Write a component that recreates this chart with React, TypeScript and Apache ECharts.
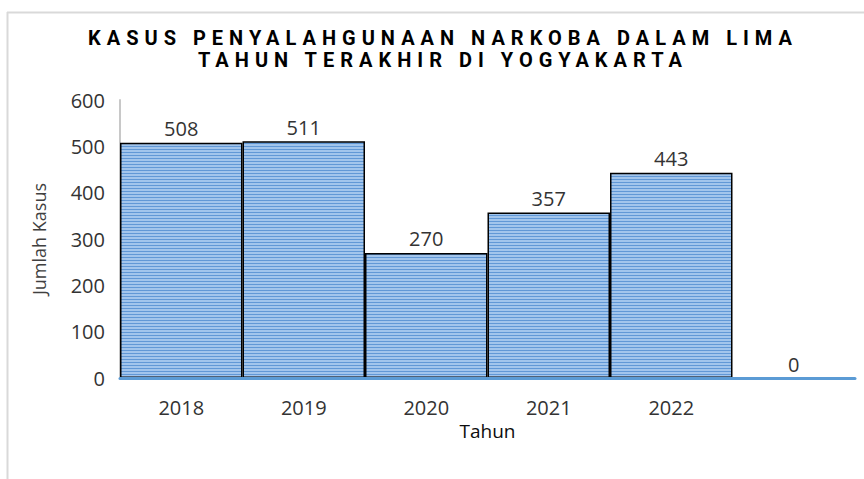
import React, { useEffect, useRef } from "react";
import * as echarts from "echarts";

const categories = ["2018", "2019", "2020", "2021", "2022", ""];
const values = [508, 511, 270, 357, 443, 0];
const yTicks = { min: 0, max: 600, interval: 100 };
const titleLines = [
  "KASUS PENYALAHGUNAAN NARKOBA DALAM LIMA",
  "TAHUN TERAKHIR DI YOGYAKARTA",
];
const yName = "Jumlah Kasus";
const xName = "Tahun";

function makeStripe(): string {
  const c = document.createElement("canvas");
  c.width = 4;
  c.height = 3;
  const ctx = c.getContext("2d");
  if (ctx) {
    ctx.fillStyle = "#a2c5ec";
    ctx.fillRect(0, 0, 4, 2);
    ctx.fillStyle = "#6198d6";
    ctx.fillRect(0, 2, 4, 1);
  }
  return c.toDataURL();
}

export default function App() {
  const ref = useRef<HTMLDivElement>(null);
  useEffect(() => {
    document.body.style.margin = "0";
    if (!ref.current) return;
    const chart = echarts.init(ref.current, undefined, { renderer: "svg" });
    const pattern = {
      image: makeStripe(),
      repeat: "repeat",
      imageWidth: 4,
      imageHeight: 3,
    };
    const labelColor = "#333333";
    const font = "'Open Sans', sans-serif";
    chart.setOption({
      animation: false,
      backgroundColor: "#ffffff",
      graphic: [
        { type: "line", shape: { x1: 7, y1: 12.5, x2: 864, y2: 12.5 }, style: { stroke: "#d9d9d9", lineWidth: 2 } },
        { type: "line", shape: { x1: 7.5, y1: 12, x2: 7.5, y2: 479 }, style: { stroke: "#d9d9d9", lineWidth: 2 } },
        ...titleLines.map((t, i) => ({
          type: "text",
          x: 443,
          y: 38 + i * 22,
          style: {
            text: t,
            textAlign: "center",
            textVerticalAlign: "middle",
            fontFamily: "Roboto, sans-serif",
            fontWeight: "bold",
            fontSize: 20,
            fill: "#000000",
          },
        })),
      ],
      grid: { left: 120, right: 9, top: 100, bottom: 101, containLabel: false },
      xAxis: {
        type: "category",
        data: categories,
        z: 5,
        axisLine: { show: true, lineStyle: { color: "#5b9bd5", width: 3 } },
        axisTick: { show: false },
        axisLabel: { color: labelColor, fontSize: 20, fontFamily: font, margin: 19 },
        name: xName,
        nameLocation: "middle",
        nameGap: 41,
        nameTextStyle: { color: "#0d0d0d", fontSize: 19, fontFamily: font },
        splitLine: { show: false },
      },
      yAxis: {
        type: "value",
        min: yTicks.min,
        max: yTicks.max,
        interval: yTicks.interval,
        axisLine: { show: true, lineStyle: { color: "#c8c8c8", width: 2 } },
        axisTick: { show: false },
        splitLine: { show: false },
        axisLabel: { color: labelColor, fontSize: 20, fontFamily: font, margin: 15 },
        name: yName,
        nameLocation: "middle",
        nameRotate: 90,
        nameGap: 72,
        nameTextStyle: { color: "#404040", fontSize: 18, fontFamily: font },
      },
      series: [
        {
          type: "bar",
          data: values.map((v) =>
            v === 0
              ? { value: v, itemStyle: { borderWidth: 0 } }
              : v
          ),
          barWidth: "100%",
          barCategoryGap: "0%",
          itemStyle: { color: pattern, borderColor: "#000000", borderWidth: 1.5 },
          label: {
            show: true,
            position: "top",
            distance: 4,
            color: labelColor,
            fontSize: 20,
            fontFamily: font,
          },
        },
      ],
    });
    const texts = ref.current.querySelectorAll("text");
    texts.forEach((el) => {
      const s = el.textContent || "";
      if (titleLines.includes(s)) {
        el.setAttribute("letter-spacing", "6");
        (el as SVGElement).style.letterSpacing = "6px";
      }
    });
    return () => chart.dispose();
  }, []);
  return <div ref={ref} style={{ width: 864, height: 479 }} />;
}
